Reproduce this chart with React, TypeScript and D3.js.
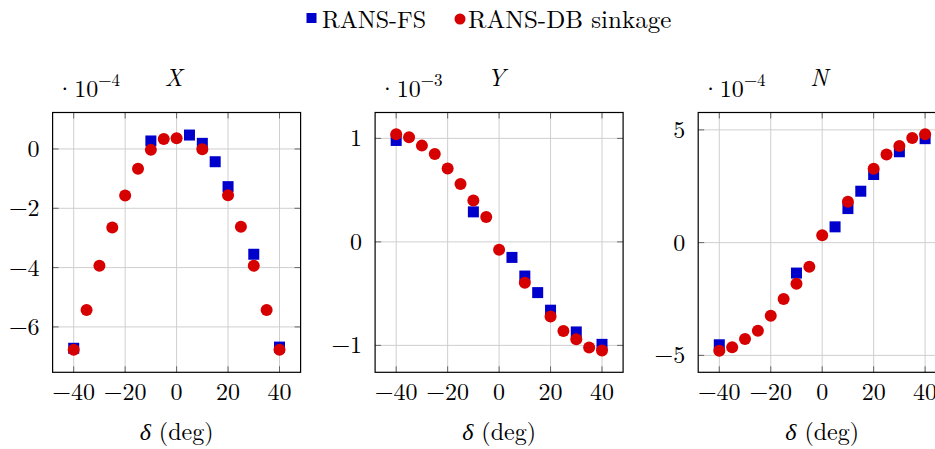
import React from "react";
import * as d3 from "d3";

const deltaFS = [-40, -10, 5, 10, 15, 20, 30, 40];
const deltaDB = [-40, -35, -30, -25, -20, -15, -10, -5, 0, 10, 20, 25, 30, 35, 40];

const xFS = [-6.72, 0.27, 0.47, 0.19, -0.43, -1.27, -3.55, -6.68];
const xDB = [-6.77, -5.43, -3.94, -2.65, -1.57, -0.67, -0.03, 0.34, 0.36, -0.01, -1.56, -2.62, -3.94, -5.43, -6.77];

const yFS = [0.98, 0.29, -0.15, -0.33, -0.49, -0.66, -0.87, -0.99];
const yDB = [1.04, 1.01, 0.93, 0.85, 0.71, 0.56, 0.40, 0.24, -0.075, -0.395, -0.72, -0.86, -0.94, -1.02, -1.05];

const nFS = [-4.53, -1.35, 0.70, 1.51, 2.28, 3.02, 4.03, 4.61];
const nDB = [-4.79, -4.64, -4.27, -3.91, -3.24, -2.50, -1.82, -1.07, 0.33, 1.81, 3.28, 3.91, 4.28, 4.64, 4.81];

const xTicks = [-40, -20, 0, 20, 40];
const panelTitles = ["X", "Y", "N"];
const panelExponents = ["−4", "−3", "−4"];
const panelYTicks = [[-6, -4, -2, 0], [-1, 0, 1], [-5, 0, 5]];
const panelYDomains: [number, number][] = [[-7.53, 1.23], [-1.26, 1.25], [-5.75, 5.77]];
const seriesNames = ["RANS-FS", "RANS-DB sinkage"];

const BLUE = "#0000cc";
const RED = "#d60000";
const FONT = "Latin Modern Roman";

const panelLefts = [52.6, 375.1, 698.2];
const PW = 248;
const TOP = 112.5;
const BOTTOM = 372.3;

function fmt(v: number) {
  return v < 0 ? "−" + Math.abs(v) : String(v);
}

function Panel({ idx, fs, db }: { idx: number; fs: number[]; db: number[] }) {
  const left = panelLefts[idx];
  const x = d3.scaleLinear().domain([-48.2, 48.2]).range([left, left + PW]);
  const y = d3.scaleLinear().domain(panelYDomains[idx]).range([BOTTOM, TOP]);
  const cx = left + PW / 2;
  const ms = 11;
  return (
    <g>
      {xTicks.map((t) => (
        <line key={"gx" + t} x1={x(t)} x2={x(t)} y1={TOP} y2={BOTTOM} stroke="#cfcfcf" strokeWidth={1} />
      ))}
      {panelYTicks[idx].map((t) => (
        <line key={"gy" + t} x1={left} x2={left + PW} y1={y(t)} y2={y(t)} stroke="#cfcfcf" strokeWidth={1} />
      ))}
      {xTicks.map((t) => (
        <g key={"tx" + t}>
          <line x1={x(t)} x2={x(t)} y1={BOTTOM} y2={BOTTOM - 6} stroke="#666" strokeWidth={1} />
          <line x1={x(t)} x2={x(t)} y1={TOP} y2={TOP + 6} stroke="#666" strokeWidth={1} />
          <text x={x(t)} y={400} textAnchor="middle" fontSize={24} fontFamily={FONT}>{fmt(t)}</text>
        </g>
      ))}
      {panelYTicks[idx].map((t) => (
        <g key={"ty" + t}>
          <line x1={left} x2={left + 6} y1={y(t)} y2={y(t)} stroke="#666" strokeWidth={1} />
          <line x1={left + PW} x2={left + PW - 6} y1={y(t)} y2={y(t)} stroke="#666" strokeWidth={1} />
          <text x={left - 13} y={y(t) + 8} textAnchor="end" fontSize={24} fontFamily={FONT}>{fmt(t)}</text>
        </g>
      ))}
      {deltaFS.map((d, i) => (
        <rect key={"s" + i} x={x(d) - ms / 2} y={y(fs[i]) - ms / 2} width={ms} height={ms} fill={BLUE} />
      ))}
      {deltaDB.map((d, i) => (
        <circle key={"c" + i} cx={x(d)} cy={y(db[i])} r={6} fill={RED} />
      ))}
      <rect x={left} y={TOP} width={PW} height={BOTTOM - TOP} fill="none" stroke="#000" strokeWidth={1.2} />
      <text x={cx - 3} y={86} textAnchor="middle" fontSize={24} fontStyle="italic" fontFamily={FONT}>{panelTitles[idx]}</text>
      <text x={left + 3} y={97} fontSize={24} fontFamily={FONT}>
        ·10<tspan dy={-11} fontSize={17}>{panelExponents[idx]}</tspan>
      </text>
      <text x={cx} y={440} textAnchor="middle" fontSize={24} fontFamily={FONT}>
        <tspan fontStyle="italic">δ</tspan> (deg)
      </text>
    </g>
  );
}

export default function App() {
  return (
    <svg width={935} height={449} style={{ position: "absolute", left: 0, top: 0, background: "#fff" }}>
      <rect x={0} y={0} width={935} height={449} fill="#fff" />
      <g>
        <rect x={306.5} y={13} width={10} height={10} fill={BLUE} />
        <text x={322} y={28} fontSize={24} fontFamily={FONT}>{seriesNames[0]}</text>
        <circle cx={460} cy={19} r={5.5} fill={RED} />
        <text x={468} y={28} fontSize={25} fontFamily={FONT}>{seriesNames[1]}</text>
      </g>
      <Panel idx={0} fs={xFS} db={xDB} />
      <Panel idx={1} fs={yFS} db={yDB} />
      <Panel idx={2} fs={nFS} db={nDB} />
    </svg>
  );
}
